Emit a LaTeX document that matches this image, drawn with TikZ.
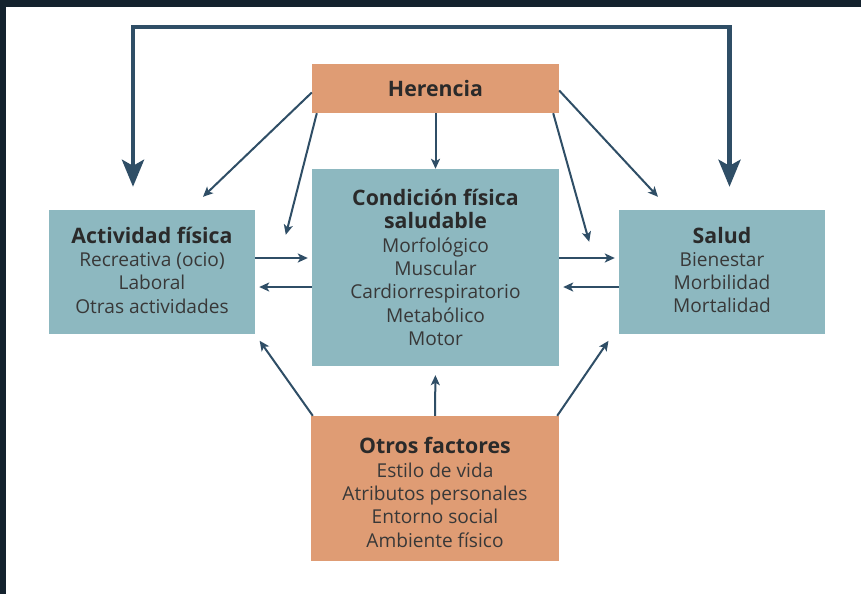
\documentclass[tikz,border=0pt]{standalone}
\usepackage{fontspec}
\setmainfont{Open Sans}
\usetikzlibrary{arrows.meta}
\definecolor{frame}{HTML}{14222E}
\definecolor{boxblue}{HTML}{8DB8C0}
\definecolor{boxorange}{HTML}{DF9C74}
\definecolor{arrowc}{HTML}{2F4E66}
\definecolor{txt}{HTML}{383838}
\definecolor{head}{HTML}{2A2A2A}
\newcommand{\hd}[1]{{\fontsize{21.3pt}{23.3pt}\selectfont\bfseries\color{head}#1}}
\tikzset{
  box/.style={inner sep=0pt},
  bluebox/.style={box, fill=boxblue},
  orangebox/.style={box, fill=boxorange},
  label text/.style={inner sep=0pt, align=center, text=txt,
    font=\fontsize{19.1pt}{23.3pt}\selectfont},
  link/.style={draw=arrowc, line width=2pt,
    -{Stealth[length=10pt,width=9pt,inset=2.5pt]}},
  biglink/.style={draw=arrowc, line width=4.5pt, line join=miter,
    {Stealth[length=27pt,width=22pt,inset=6pt]}-{Stealth[length=27pt,width=22pt,inset=6pt]}}
}
\begin{document}
\begin{tikzpicture}[x=1pt,y=-1pt]
\useasboundingbox (0,0) rectangle (861,594);
\fill[white] (0,0) rectangle (861,594);
% dark frame strips
\fill[frame] (0,0) rectangle (861,7);
\fill[frame] (0,0) rectangle (6,594);

% boxes
\node[orangebox, minimum width=247pt, minimum height=49pt] (her) at (435.5,88.5) {};
\node[bluebox, minimum width=247pt, minimum height=197pt] (cond) at (435.5,267.5) {};
\node[bluebox, minimum width=206pt, minimum height=124pt] (act) at (152,272) {};
\node[bluebox, minimum width=206pt, minimum height=124pt] (sal) at (722,272) {};
\node[orangebox, minimum width=248pt, minimum height=145pt] (otr) at (435,488.5) {};

% box texts
\node[label text] (herT) at (her.center) {\hd{Herencia}};
\node[label text] (condT) at (cond.center)
  {\hd{Condición física}\\\hd{saludable}\\Morfológico\\Muscular\\Cardiorrespiratorio\\Metabólico\\Motor};
\node[label text] (actT) at ([yshift=2pt]act.center)
  {\hd{Actividad física}\\Recreativa (ocio)\\Laboral\\Otras actividades};
\node[label text] (salT) at ([yshift=2pt]sal.center)
  {\hd{Salud}\\Bienestar\\Morbilidad\\Mortalidad};
\node[label text] (otrT) at ([yshift=-4pt]otr.center)
  {\hd{Otros factores}\\Estilo de vida\\Atributos personales\\Entorno social\\Ambiente físico};

% upper loop joining Actividad física and Salud
\coordinate (top) at (435,27);
\draw[biglink] ([xshift=-19pt,yshift=23pt]act.north) |- (top) -| ([xshift=7.5pt,yshift=23pt]sal.north);

% Herencia
\draw[link] ([yshift=-4pt]her.west) -- ([xshift=51pt,yshift=13pt]act.north);
\draw[link] ([xshift=5pt]her.south west) -- ([xshift=-26pt,yshift=-25pt]cond.west |- act.north);
\draw[link] (her.south) -- (cond.north);
\draw[link] ([xshift=-6pt]her.south east) -- ([xshift=30pt,yshift=-32pt]cond.east |- sal.north);
\draw[link] ([yshift=-2pt]her.east) -- ([xshift=-64pt,yshift=13pt]sal.north);

% Actividad física / Condición física / Salud
\draw[link] ([yshift=14pt]act.east) -- ([yshift=14pt]act.east -| cond.west) [shorten >=4pt];
\draw[link] ([yshift=-15pt]act.east -| cond.west) -- ([yshift=-15pt]act.east) [shorten >=4pt];
\draw[link] ([yshift=14pt]sal.west -| cond.east) -- ([yshift=14pt]sal.west) [shorten >=4pt];
\draw[link] ([yshift=-15pt]sal.west) -- ([yshift=-15pt]sal.west -| cond.east) [shorten >=4pt];

% Otros factores
\draw[link] ([xshift=2pt]otr.north west) -- ([xshift=103pt]act.south) [shorten >=8pt];
\draw[link] ([xshift=0pt]otr.north) -- (cond.south) [shorten >=9pt];
\draw[link] ([xshift=-2pt]otr.north east) -- ([xshift=-109pt]sal.south) [shorten >=8pt];
\end{tikzpicture}
\end{document}
